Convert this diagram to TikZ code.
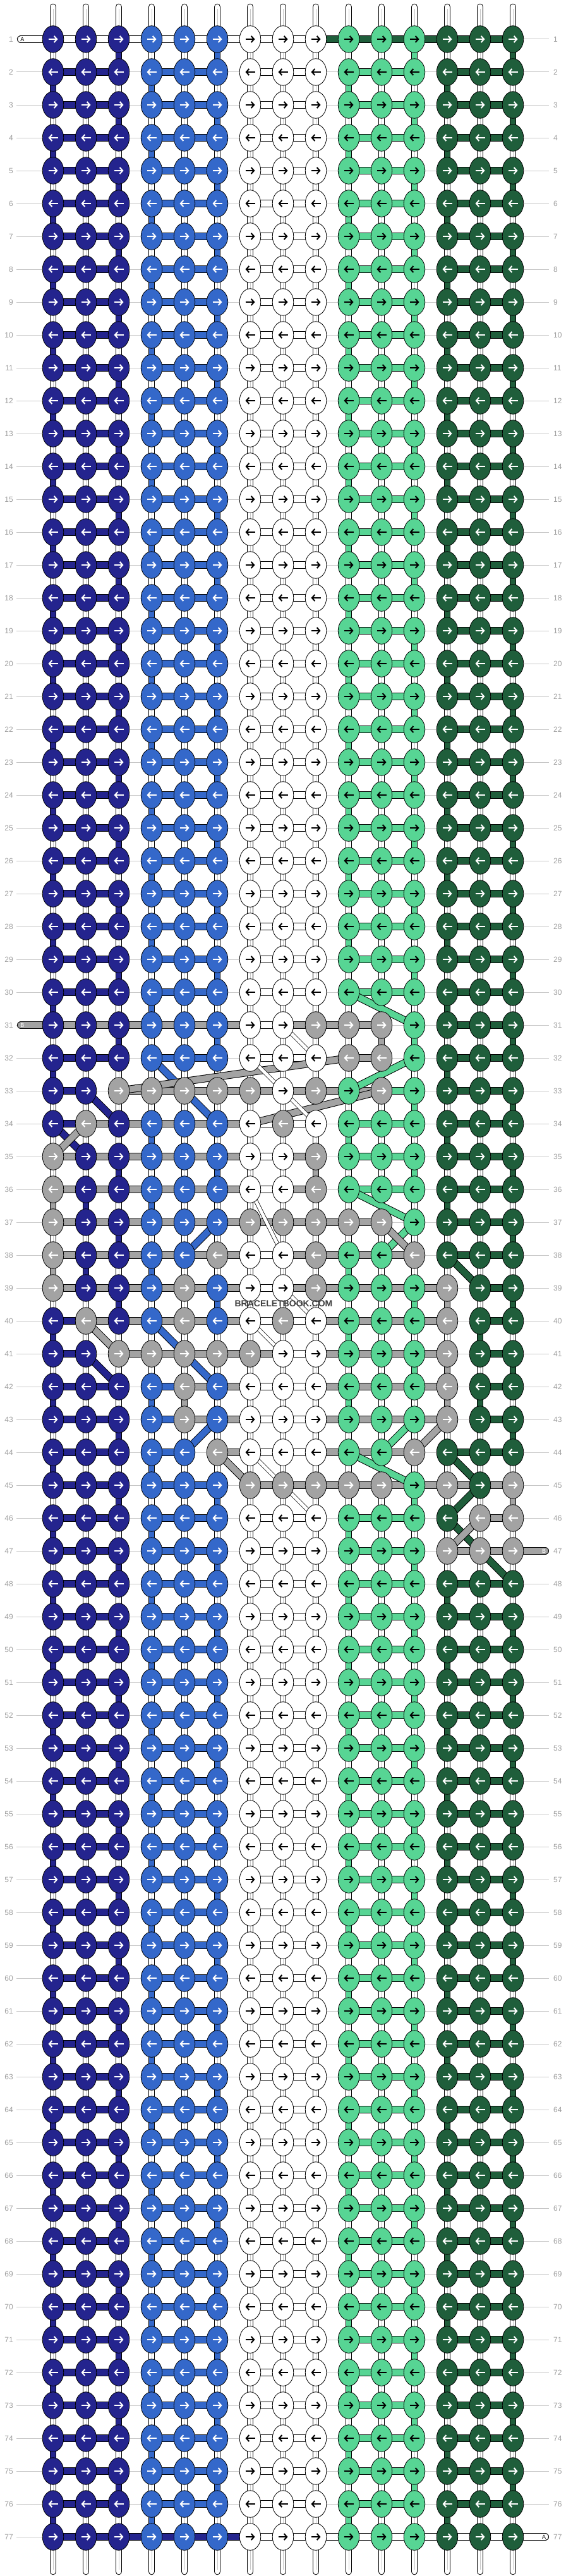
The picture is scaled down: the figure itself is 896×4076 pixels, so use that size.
\documentclass[tikz,border=0pt]{standalone}
\usepackage{fontspec}
\setmainfont{Liberation Sans}
\usetikzlibrary{shapes.geometric,arrows.meta}

\definecolor{cN}{HTML}{24248E}
\definecolor{cB}{HTML}{3468CA}
\definecolor{cW}{HTML}{FFFFFF}
\definecolor{cL}{HTML}{57D594}
\definecolor{cD}{HTML}{1F5E3B}
\definecolor{cG}{HTML}{A3A3A3}
\colorlet{cw}{white}
% arrow colour on each knot colour
\colorlet{aN}{white}\colorlet{aB}{white}\colorlet{aD}{white}\colorlet{aG}{white}
\colorlet{aW}{black}\colorlet{aL}{black}

\pgfdeclarelayer{guide}
\pgfdeclarelayer{conn}
\pgfsetlayers{guide,conn,main}

\tikzset{
  knot/.style={ellipse, draw, line width=0.8pt, fill=c#1,
    minimum width=33.5pt, minimum height=42.5pt, inner sep=0pt},
  hbar/.style={double=c#1, double distance=10pt, line width=1pt},
  vbar/.style={double=c#1, double distance=8.5pt, line width=1pt},
  wdiag/.style={double=white, double distance=5pt, line width=0.8pt},
  strand/.style={double=white, double distance=8.5pt, line width=1pt, line cap=round},
  core/.style={black!22, line width=0.8pt},
  knotarrow/.style={line width=2pt, -{Straight Barb[length=4.5pt,width=10pt]}},
  rowno/.style={text=black!38, inner sep=0pt, font=\fontsize{12}{12}\selectfont},
  guideline/.style={black!22, line width=1pt},
  tag/.style={inner sep=0pt, font=\fontsize{9}{9}\selectfont},
}

% plain rows
\def\knreg{N,N,N,B,B,B,W,W,W,L,L,L,D,D,D}
\def\hzreg{N,N,-,B,B,-,w,w,-,L,L,-,D,D}
\def\vtodd{w,w,N,w,w,B,w,w,w,w,w,L,w,w,D}
\def\vteven{N,w,w,B,w,w,w,w,w,L,w,w,D,w,w}

% row: knots / horizontal links / links down to the next row
\newcommand\knotrow[4]{%
  \expandafter\edef\csname kn#1\endcsname{#2}%
  \expandafter\edef\csname hz#1\endcsname{#3}%
  \expandafter\edef\csname vt#1\endcsname{#4}}
\newcommand\pickrow[1]{%
  \ifcsname kn#1\endcsname
    \expandafter\let\expandafter\curknots\csname kn#1\endcsname
    \expandafter\let\expandafter\curhz\csname hz#1\endcsname
    \expandafter\let\expandafter\curvt\csname vt#1\endcsname
  \else
    \let\curknots\knreg
    \let\curhz\hzreg
    \ifodd#1\relax\let\curvt\vtodd\else\let\curvt\vteven\fi
  \fi}

\knotrow{1}{\knreg}{w,w,w,w,w,w,w,w,D,D,D,D,D,D}{\vtodd}
\knotrow{30}{\knreg}{\hzreg}{N,w,w,B,w,w,w,w,w,w,w,w,D,w,w}
\knotrow{31}{N,N,N,B,B,B,W,W,G,G,G,L,D,D,D}{G,G,G,G,G,G,w,G,G,G,-,-,D,D}{w,w,N,w,w,B,w,w,w,w,G,L,w,w,D}
\knotrow{32}{N,N,N,B,B,B,W,W,W,G,G,L,D,D,D}{N,N,-,B,B,-,w,w,-,G,-,-,D,D}{N,w,w,w,w,w,w,w,w,w,w,w,D,w,w}
\knotrow{33}{N,N,G,G,G,G,G,W,G,L,G,L,D,D,D}{N,-,G,G,G,G,G,G,G,G,L,-,D,D}{w,w,w,w,w,w,w,w,w,w,w,L,w,w,D}
\knotrow{34}{N,G,N,B,B,B,W,G,W,L,L,L,D,D,D}{N,G,G,G,G,G,w,w,-,L,L,-,D,D}{w,w,w,B,w,w,w,w,w,L,w,w,D,w,w}
\knotrow{35}{G,N,N,B,B,B,W,W,G,L,L,L,D,D,D}{G,G,G,G,G,G,w,G,-,L,L,-,D,D}{w,w,N,w,w,B,w,w,G,w,w,L,w,w,D}
\knotrow{36}{G,N,N,B,B,B,W,W,G,L,L,L,D,D,D}{G,G,G,G,G,G,w,G,-,L,L,-,D,D}{G,N,w,B,w,w,w,w,w,w,w,w,D,w,w}
\knotrow{37}{G,N,N,B,B,B,G,G,G,G,G,L,D,D,D}{G,G,G,G,G,G,G,G,G,G,-,-,D,D}{w,w,N,w,w,w,w,w,w,w,w,w,w,w,D}
\knotrow{38}{G,N,N,B,B,G,W,W,G,L,L,G,D,D,D}{G,G,G,G,G,G,w,G,G,G,G,-,D,D}{G,N,w,B,w,w,w,w,w,L,w,w,w,w,w}
\knotrow{39}{G,N,N,B,G,B,W,W,G,L,L,L,G,D,D}{G,G,G,G,G,G,w,G,G,G,G,G,-,D}{w,w,N,w,w,B,w,w,w,w,w,L,G,w,D}
\knotrow{40}{N,G,N,B,G,B,W,G,W,L,L,L,G,D,D}{N,G,G,G,G,G,w,w,G,G,G,G,-,D}{N,w,w,w,w,w,w,w,w,L,w,w,w,D,w}
\knotrow{41}{N,N,G,G,G,G,G,W,W,L,L,L,G,D,D}{N,-,G,G,G,G,G,w,G,G,G,G,-,D}{w,w,w,w,w,w,w,w,w,w,w,L,G,w,D}
\knotrow{42}{N,N,N,B,G,B,W,W,W,L,L,L,G,D,D}{N,N,-,B,G,G,w,w,G,G,G,G,-,D}{N,w,w,B,G,w,w,w,w,L,w,w,G,D,w}
\knotrow{43}{N,N,N,B,G,B,W,W,W,L,L,L,G,D,D}{N,N,-,B,G,G,w,w,G,G,G,G,-,D}{w,w,N,w,w,w,w,w,w,w,w,w,w,w,D}
\knotrow{44}{N,N,N,B,B,G,W,W,W,L,L,G,D,D,D}{N,N,-,B,-,G,w,w,G,G,G,-,D,D}{N,w,w,B,w,w,w,w,w,w,w,w,w,w,w}
\knotrow{45}{N,N,N,B,B,B,G,G,G,G,G,L,G,D,G}{N,N,-,B,B,-,G,G,G,G,G,G,G,G}{w,w,N,w,w,B,w,w,w,w,w,L,w,w,G}
\knotrow{46}{N,N,N,B,B,B,W,W,W,L,L,L,D,G,G}{N,N,-,B,B,-,w,w,-,L,L,-,-,G}{N,w,w,B,w,w,w,w,w,L,w,w,w,w,w}
\knotrow{47}{N,N,N,B,B,B,W,W,W,L,L,L,G,G,G}{N,N,-,B,B,-,w,w,-,L,L,-,G,G}{w,w,N,w,w,B,w,w,w,w,w,L,w,w,w}
\knotrow{77}{\knreg}{N,N,N,N,N,N,w,w,w,w,w,w,w,w}{\vtodd}

\begin{document}
\begin{tikzpicture}[x=1pt,y=-1pt]
  \useasboundingbox (0,0) rectangle (896,4076);
  % knots and row numbers
  \foreach \r in {1,...,77} {
    \pickrow{\r}
    \foreach \k [count=\c] in \curknots {
      \node[knot=\k] (k-\r-\c) at ({84+52*(\c-1)},{62+52*(\r-1)}) {};
      \ifodd\r\relax
        \draw[knotarrow,a\k] ([xshift=-7.5pt]k-\r-\c.center) -- ([xshift=7.5pt]k-\r-\c.center);
      \else
        \draw[knotarrow,a\k] ([xshift=7.5pt]k-\r-\c.center) -- ([xshift=-7.5pt]k-\r-\c.center);
      \fi
    }
    \node[rowno,anchor=east] (left-\r) at (21,{62+52*(\r-1)}) {\r};
    \node[rowno,anchor=west] (right-\r) at (876,{62+52*(\r-1)}) {\r};
  }
  \begin{pgfonlayer}{guide}
    \foreach \r in {1,...,77}
      \draw[guideline] ([xshift=5pt]left-\r.east) -- ([xshift=-7pt]right-\r.west);
  \end{pgfonlayer}
  \begin{pgfonlayer}{conn}
    % links along the rows
    \foreach \r in {1,...,77} {
      \pickrow{\r}
      \foreach \h [count=\c] in \curhz {
        \if-\h\else
          \pgfmathtruncatemacro\d{\c+1}
          \draw[hbar=\h] (k-\r-\c.center) -- (k-\r-\d.center);
        \fi
      }
    }
    % links down to the next row
    \foreach \r in {1,...,76} {
      \pickrow{\r}
      \pgfmathtruncatemacro\s{\r+1}
      \foreach \v [count=\c] in \curvt {
        \draw[vbar=\v] (k-\r-\c.center) -- (k-\s-\c.center);
        \if w\v\draw[core] (k-\r-\c.center) -- (k-\s-\c.center);\fi
      }
    }
    % strings that jump across
    \foreach \ca/\ra/\cb/\rb/\h in {10/30/12/31/L, 12/32/10/33/L, 10/36/12/37/L, 12/37/11/38/L,
        12/43/11/44/L, 10/44/12/45/L, 2/33/3/34/N, 1/34/2/35/N, 2/41/3/42/N,
        4/32/6/34/B, 6/37/5/38/B, 4/40/6/42/B, 6/43/5/44/B,
        13/38/14/39/D, 13/44/14/45/D, 14/45/13/46/D, 13/46/15/48/D,
        10/32/3/33/G, 11/33/7/34/G, 2/34/1/35/G, 11/37/12/38/G, 2/40/3/41/G,
        13/43/12/44/G, 6/44/7/45/G, 14/46/13/47/G}
      \draw[hbar=\h] (k-\ra-\ca.center) -- (k-\rb-\cb.center);
    \foreach \ca/\ra/\cb/\rb in {8/31/9/32, 7/32/8/33, 8/33/9/34, 7/36/8/38,
        8/39/9/40, 7/40/8/41, 7/44/9/46}
      \draw[wdiag] (k-\ra-\ca.center) -- (k-\rb-\cb.center);
    % loose ends
    \foreach \c in {1,...,15} {
      \draw[strand] (k-1-\c.center) -- ([yshift=51pt]k-1-\c.center);
      \draw[core] (k-1-\c.center) -- ([yshift=48pt]k-1-\c.center);
      \draw[strand] (k-77-\c.center) -- ([yshift=-55pt]k-77-\c.center);
      \draw[core] (k-77-\c.center) -- ([yshift=-52pt]k-77-\c.center);
    }
    \coordinate (endA1) at (33,62);
    \coordinate (endB1) at (33,1622);
    \coordinate (endB2) at (863,2454);
    \coordinate (endA2) at (863,4014);
    \draw[hbar=w, line cap=round] (k-1-1.center) -- (endA1);
    \draw[hbar=G, line cap=round] (k-31-1.center) -- (endB1);
    \draw[hbar=G, line cap=round] (k-47-15.center) -- (endB2);
    \draw[hbar=w, line cap=round] (k-77-15.center) -- (endA2);
  \end{pgfonlayer}
  \node[tag] (tagA1) at (35.5,62) {A};
  \node[tag,text=white] (tagB1) at (35.5,1622) {B};
  \node[tag,text=white] (tagB2) at (861,2454) {B};
  \node[tag] (tagA2) at (861,4014) {A};
  \node[font=\bfseries\fontsize{14}{14}\selectfont, text=black!75] (mark) at (449,2063) {BRACELETBOOK.COM};
\end{tikzpicture}
\end{document}
